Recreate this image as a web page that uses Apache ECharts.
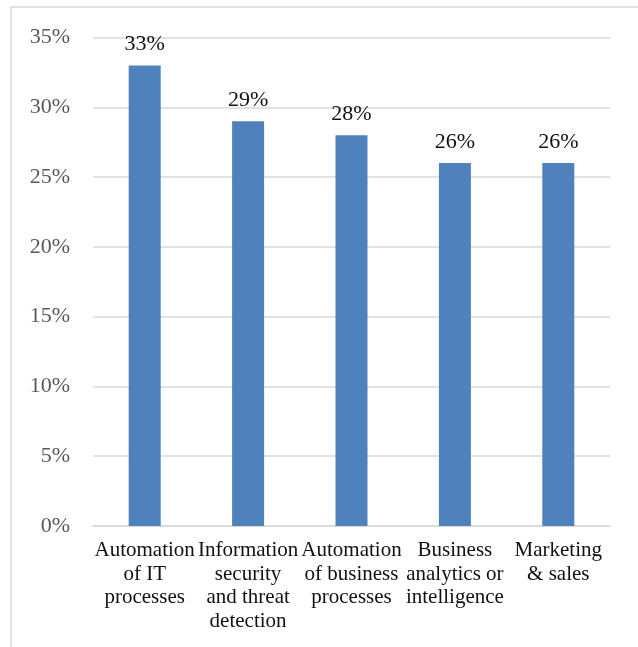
<!DOCTYPE html>
<html>
<head>
<meta charset="utf-8">
<script src="https://cdn.jsdelivr.net/npm/echarts@6/dist/echarts.min.js"></script>
<style>html,body{margin:0;padding:0;background:#fff}#c{width:638px;height:647px}</style>
</head>
<body>
<div id="c"></div>
<script>
const categories = ["Automation\nof IT\nprocesses", "Information\nsecurity\nand threat\ndetection", "Automation\nof business\nprocesses", "Business\nanalytics or\nintelligence", "Marketing\n& sales"];
const values = [33, 29, 28, 26, 26];
const yTicks = [0, 5, 10, 15, 20, 25, 30, 35];

const chart = echarts.init(document.getElementById('c'), null, {renderer: 'canvas'});
const font = '"Liberation Serif", "Times New Roman", serif';
chart.setOption({
  animation: false,
  graphic: [{
    type: 'rect', shape: {x: 11, y: 7, width: 700, height: 700},
    style: {fill: 'none', stroke: '#d9d9d9', lineWidth: 1.5}, silent: true, z: -10
  }],
  grid: {left: 93, right: 28, top: 37.5, bottom: 121},
  xAxis: {
    type: 'category', data: categories,
    axisTick: {show: false},
    axisLine: {lineStyle: {color: '#d9d9d9', width: 1.5}},
    axisLabel: {interval: 0, color: '#111', fontFamily: font, fontSize: 21, lineHeight: 23.5, margin: 13}
  },
  yAxis: {
    type: 'value', min: yTicks[0], max: yTicks[yTicks.length - 1], interval: 5,
    axisLine: {show: false}, axisTick: {show: false},
    splitLine: {lineStyle: {color: '#d9d9d9', width: 1.5}},
    axisLabel: {formatter: v => v + '%', color: '#595959', fontFamily: font, fontSize: 22, margin: 23}
  },
  series: [{
    type: 'bar', data: values, barWidth: 32,
    itemStyle: {color: '#4f81bd'},
    label: {show: true, position: 'top', formatter: p => p.value + '%', color: '#111', fontFamily: font, fontSize: 22, distance: 10}
  }]
});
</script>
</body>
</html>
